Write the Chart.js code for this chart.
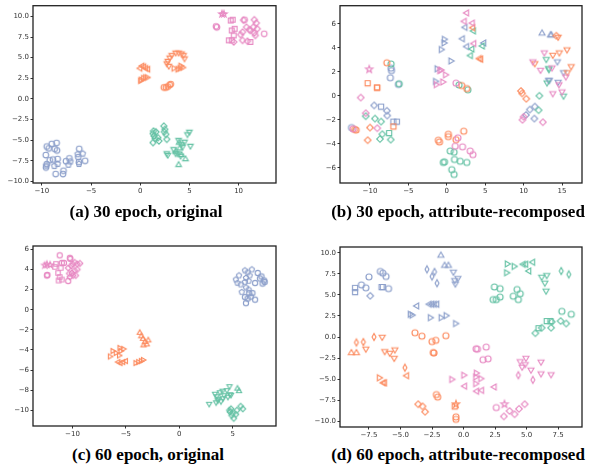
<!DOCTYPE html>
<html>
<head>
<meta charset="utf-8">
<script src="https://cdn.jsdelivr.net/npm/chart.js@4.4.1/dist/chart.umd.min.js"></script>
<style>
body { margin: 0; background: #fff; width: 589px; height: 465px; overflow: hidden; position: relative; }
canvas { position: absolute; }
.cap { position: absolute; font: bold 17px "Liberation Serif", "Times New Roman", serif; color: #000; white-space: nowrap; transform: translateX(-50%); }
</style>
</head>
<body>
<canvas id="ca" width="295" height="205" style="left:0;top:0"></canvas>
<canvas id="cb" width="294" height="205" style="left:295px;top:0"></canvas>
<canvas id="cc" width="295" height="215" style="left:0;top:230px"></canvas>
<canvas id="cd" width="294" height="215" style="left:295px;top:230px"></canvas>
<div class="cap" style="left:146px;top:202px">(a) 30 epoch, original</div>
<div class="cap" style="left:458px;top:202px">(b) 30 epoch, attribute-recomposed</div>
<div class="cap" style="left:148px;top:445px">(c) 60 epoch, original</div>
<div class="cap" style="left:458px;top:445px">(d) 60 epoch, attribute-recomposed</div>
<script>
// ---- tick labels ----
const A_XTICKS = [-10, -5, 0, 5, 10];
const A_YTICKS = [-10, -7.5, -5, -2.5, 0, 2.5, 5, 7.5, 10];
const B_XTICKS = [-10, -5, 0, 5, 10, 15];
const B_YTICKS = [-6, -4, -2, 0, 2, 4, 6];
const C_XTICKS = [-10, -5, 0, 5];
const C_YTICKS = [-10, -8, -6, -4, -2, 0, 2, 4, 6];
const D_XTICKS = [-7.5, -5, -2.5, 0, 2.5, 5, 7.5];
const D_YTICKS = [-10, -7.5, -5, -2.5, 0, 2.5, 5, 7.5, 10];

// ---- (a) 30 epoch, original ----
const A_BLUE_O = [[-9.6,-6.8],[-9.5,-5.77],[-9.3,-6.0],[-9.0,-5.45],[-8.5,-5.33],[-8.7,-6.05],[-8.46,-6.24],[-9.2,-7.43],[-9.5,-7.9],[-9.58,-8.3],[-8.87,-7.35],[-8.4,-7.28],[-8.6,-9.1],[-7.85,-9.1],[-7.8,-8.7],[-7.55,-7.55],[-7.2,-7.2],[-6.2,-6.05],[-6.3,-7.04],[-6.23,-7.63],[-5.6,-7.5]];
const A_BLUE_P = [[-8.4,-7.9],[-8.73,-8.15],[-7.1,-7.6],[-7.3,-7.99],[-6.36,-6.72],[-5.85,-6.64],[-6.23,-7.9],[-9.55,-8.1]];
const A_GREEN_D = [[1.3,-4.2],[1.4,-4.5],[1.3,-5.3],[1.6,-4.0],[1.8,-4.7],[1.9,-5.1],[2.4,-3.3],[2.5,-3.7],[2.6,-4.3],[2.7,-4.9],[2.45,-4.0],[1.5,-4.8],[1.35,-3.9]];
const A_GREEN_V = [[2.7,-6.6],[2.8,-6.8],[3.4,-6.1],[3.9,-5.0],[4.2,-5.5],[4.8,-4.3],[5.0,-4.0],[5.1,-5.7],[4.5,-5.2],[3.8,-6.6],[4.1,-6.9],[4.3,-5.8],[3.6,-6.6]];
const A_GREEN_UP = [[3.9,-8.0],[4.6,-7.3],[3.6,-6.4],[4.0,-6.0],[4.2,-6.8],[3.95,-5.3]];
const A_ORANGE_L = [[0.0,3.7],[0.2,4.0],[0.4,3.9],[0.6,3.7],[0.8,3.6]];
const A_ORANGE_R = [[0.0,2.2],[0.1,2.3],[0.3,2.5],[0.5,2.6],[0.7,2.6],[3.4,3.7],[3.8,3.6],[4.0,3.7],[4.3,3.8],[4.1,4.0]];
const A_ORANGE_O = [[2.4,1.4],[2.6,1.4],[2.8,1.5],[3.0,1.7],[3.1,1.8]];
const A_ORANGE_V = [[2.7,4.3],[2.8,4.6],[3.0,5.0],[3.2,5.3],[3.6,5.6],[3.9,5.6],[4.2,5.5],[4.4,5.3],[4.5,4.9],[2.9,4.0]];
const A_PINK_STAR = [[8.3,10.3],[8.5,10.3]];
const A_PINK_O = [[7.7,8.8],[7.8,8.7],[12.6,7.9],[10.6,9.6]];
const A_PINK_S = [[9.2,9.5],[9.4,9.6],[9.3,8.3],[9.6,8.5],[9.5,7.7],[9.0,7.1],[9.3,7.1],[11.2,6.9]];
const A_PINK_D = [[10.4,8.1],[10.2,7.8],[10.4,7.1],[9.5,6.9],[10.8,8.7],[11.1,8.4],[11.6,9.6],[11.8,9.2],[11.5,8.7],[11.9,8.5],[11.2,8.3],[11.6,8.0],[11.7,7.7],[10.9,7.0],[10.5,9.55]];

// ---- (b) 30 epoch, attribute-recomposed ----
const B_PINK_L = [[2.6,6.9],[2.3,6.2],[3.35,6.05],[3.55,4.35]];
const B_PINK_R = [[-0.95,2.1],[-0.8,2.15],[-0.2,1.75],[-1.4,0.93],[-0.55,1.15]];
const B_PINK_STAR = [[-10.1,2.2]];
const B_PINK_D = [[-11.2,-0.15],[-10.55,-1.45],[-9.05,-2.7],[10.0,-1.75],[9.85,-2.0],[12.5,-2.2]];
const B_PINK_O = [[1.2,1.05],[-12.2,-2.75],[1.45,-3.5],[1.1,-4.2],[2.05,-4.25],[3.05,-4.6],[3.4,-4.9]];
const B_PINK_V = [[12.7,3.6],[11.2,2.85],[12.2,2.15],[13.7,2.35],[15.5,1.6],[14.6,0.95],[13.8,0.2],[15.0,0.35]];
const B_ORANGE_L = [[3.4,5.67],[4.25,3.1],[4.45,3.05]];
const B_ORANGE_O = [[-7.8,2.75],[1.95,0.85],[2.6,0.6],[-11.8,-2.85],[-12.0,-2.8],[2.2,-2.95],[0.2,-3.2],[0.2,-3.4],[-1.1,-3.7],[-0.95,-3.85],[1.2,-3.65]];
const B_ORANGE_S = [[-10.3,1.05],[-9.1,0.7],[-9.05,0.68],[-6.95,-2.55]];
const B_ORANGE_D = [[-10.0,-2.65],[-10.3,-3.7],[9.65,0.4],[9.8,0.2],[10.35,-0.25],[14.25,5.0]];
const B_ORANGE_V = [[14.5,4.9],[13.8,3.4],[14.65,3.6],[15.65,3.85],[11.45,2.7],[16.2,2.45],[15.7,1.95]];
const B_GREEN_L = [[3.5,5.4],[3.3,3.9],[4.65,4.15],[3.1,3.35]];
const B_GREEN_O = [[-7.25,2.65],[-6.2,1.0],[1.6,0.9],[2.75,0.5],[0.45,-4.6],[0.95,-4.7],[-0.45,-5.55],[-0.3,-5.5],[1.0,-5.3],[1.75,-5.45],[2.6,-5.55],[0.65,-6.15],[0.95,-6.55]];
const B_GREEN_D = [[-10.55,-1.7],[-9.35,-1.9],[-8.55,-2.15],[-8.4,-3.2],[-8.7,-3.6],[-7.3,-3.65],[12.05,0.0],[11.95,-1.2]];
const B_GREEN_S = [[-7.5,-3.1]];
const B_GREEN_V = [[12.95,3.05],[13.25,2.3],[13.3,2.2],[13.05,1.1],[15.2,0.0]];
const B_BLUE_L = [[2.4,5.7],[2.05,4.75],[2.6,4.1],[4.85,4.4]];
const B_BLUE_R = [[-0.35,4.7],[-0.4,4.4],[-0.75,3.85],[0.5,2.9],[-1.3,2.25],[-1.5,1.2]];
const B_BLUE_O = [[-7.25,2.3],[-7.2,2.1],[-7.35,1.5],[-6.3,0.95],[-12.4,-2.65]];
const B_BLUE_S = [[-8.55,-0.9],[-6.95,-2.15],[-6.5,-2.15]];
const B_BLUE_D = [[-9.45,-0.8],[-7.8,-1.25],[-7.75,-1.65],[11.45,-0.9],[10.8,-1.15],[10.3,-1.6],[11.4,-1.9]];
const B_BLUE_UP = [[12.4,5.2],[13.5,5.05],[13.6,5.05]];
const B_BLUE_V = [[14.4,2.85],[15.2,1.95],[13.25,1.3],[13.35,1.3],[14.5,1.15]];

// ---- (c) 60 epoch, original ----
const C_PINK_STAR = [[-12.6,4.4],[-12.4,4.5],[-12.1,4.45]];
const C_PINK_O = [[-12.4,3.4],[-12.35,3.45],[-11.2,5.4],[-11.0,4.65],[-10.8,4.65],[-10.2,5.05],[-10.25,5.15],[-10.4,2.85]];
const C_PINK_S = [[-11.55,4.55],[-11.1,4.15],[-11.35,3.65],[-11.2,3.25],[-11.3,2.9],[-11.0,3.0],[-11.65,4.25]];
const C_PINK_D = [[-10.4,4.15],[-10.0,4.55],[-9.8,4.7],[-9.55,4.55],[-9.3,4.6],[-10.3,3.6],[-10.05,3.65],[-9.8,3.9],[-9.55,4.0],[-10.25,3.25],[-9.95,3.4],[-9.7,3.4],[-10.1,4.35]];
const C_BLUE_P = [[5.3,3.0],[5.6,3.4],[5.45,2.65],[5.75,2.5],[5.85,1.75],[6.15,3.9],[6.4,3.7],[6.25,3.15],[6.5,2.85],[6.15,2.75],[6.8,4.0],[6.6,3.4],[6.25,2.2],[6.5,2.0]];
const C_BLUE_O = [[6.55,1.65],[6.85,1.65],[6.7,1.3],[6.15,1.25],[6.4,1.1],[6.25,0.65],[7.1,2.65],[7.1,1.0],[7.35,3.65],[7.55,3.1],[7.7,3.3],[7.8,2.6],[7.95,2.9],[8.0,2.75]];
const C_ORANGE_UP = [[-3.7,-2.3],[-3.55,-2.65],[-3.4,-2.9],[-3.2,-3.2],[-3.05,-3.45],[-3.35,-3.55],[-2.9,-3.05]];
const C_ORANGE_R = [[-6.5,-4.65],[-6.25,-4.1],[-5.95,-4.3],[-5.6,-3.8],[-5.5,-4.1],[-5.25,-3.9],[-5.65,-4.55],[-4.1,-5.3],[-3.85,-5.2],[-3.6,-5.1],[-3.4,-5.0]];
const C_ORANGE_L = [[-5.7,-5.2],[-5.5,-5.3],[-5.25,-5.2],[-5.0,-5.1]];
const C_GREEN_V = [[2.8,-9.35],[3.35,-8.35],[3.5,-8.6],[3.65,-8.85],[3.45,-9.2],[3.8,-8.2],[4.05,-8.05],[4.2,-8.5],[4.45,-8.0],[4.7,-7.6],[4.75,-8.4],[4.55,-8.65],[4.85,-8.45],[3.6,-9.0],[3.9,-9.1],[4.1,-8.8]];
const C_GREEN_UP = [[5.45,-7.85],[5.6,-8.1]];
const C_GREEN_D = [[4.75,-10.15],[4.9,-10.5],[5.1,-10.8],[5.3,-10.4],[5.4,-10.0],[5.75,-9.6],[5.95,-9.85],[4.85,-9.85],[5.0,-10.3],[4.7,-10.0]];

// ---- (d) 60 epoch, attribute-recomposed ----
const D_BLUE_UP = [[-1.8,9.7],[-1.5,8.5],[-1.2,8.5]];
const D_BLUE_TD = [[-2.9,8.05],[-2.3,7.75],[-2.5,7.2],[-2.1,6.4]];
const D_BLUE_V = [[-0.8,7.75],[-0.7,6.75],[-0.65,6.35],[-0.45,7.0]];
const D_BLUE_O = [[-6.6,7.8],[-6.4,7.6],[-6.15,7.2],[-7.5,7.15],[-8.1,6.2],[-7.75,5.85],[-5.95,5.75]];
const D_BLUE_S = [[-8.6,5.85],[-8.6,5.35],[-6.5,5.95],[-6.4,5.95]];
const D_BLUE_D = [[-7.4,4.9]];
const D_BLUE_L = [[-3.7,3.7],[-2.7,3.9],[-2.5,3.9],[-2.3,3.9],[-2.1,3.9]];
const D_BLUE_R = [[-4.25,2.7],[-4.1,2.6],[-2.65,2.3],[-1.8,2.3],[-1.4,2.55],[-0.65,1.6]];
const D_GREEN_R = [[3.45,8.7],[3.4,7.65],[4.0,8.4]];
const D_GREEN_L = [[4.75,8.65],[4.95,8.65],[5.5,8.9],[5.2,7.85]];
const D_GREEN_O = [[2.45,5.95],[2.9,5.75],[2.35,4.45],[2.6,4.45],[2.9,4.75],[4.25,5.65],[4.5,5.15],[3.95,4.85],[4.35,4.45],[7.8,3.05],[8.55,2.7]];
const D_GREEN_V = [[6.2,7.15],[6.6,7.35],[6.45,6.45],[6.55,5.5]];
const D_GREEN_TD = [[7.75,7.85],[8.35,7.45]];
const D_GREEN_S = [[6.6,1.9],[6.9,1.9],[5.95,1.05]];
const D_GREEN_D = [[5.7,0.45],[6.2,1.1],[7.0,1.8],[7.7,1.9],[8.15,1.6],[6.95,1.1]];
const D_ORANGE_TD = [[-8.5,-0.65],[-7.95,-0.6],[-7.1,0.0],[-4.65,-3.65]];
const D_ORANGE_V = [[-6.45,0.0],[-7.75,-1.4],[-6.25,-1.7],[-5.85,-1.9],[-5.45,-1.5],[-5.5,-2.5]];
const D_ORANGE_UP = [[-8.9,-1.9],[-8.5,-1.9]];
const D_ORANGE_L = [[-4.5,-4.6],[-6.35,-5.45],[-6.25,-5.45]];
const D_ORANGE_R = [[-6.7,-4.85]];
const D_ORANGE_O = [[-3.85,0.5],[-3.3,0.1],[-2.5,-0.55],[-2.2,-0.4],[-1.4,0.15],[-2.4,-1.85],[-2.35,-1.9],[-2.15,-6.85],[-2.05,-7.15],[-0.6,-9.5],[-0.6,-9.8]];
const D_ORANGE_D = [[-3.6,-8.0],[-3.25,-8.25],[-3.05,-8.9]];
const D_ORANGE_S = [[-0.7,-8.25]];
const D_ORANGE_STAR = [[-0.6,-8.0]];
const D_PINK_O = [[1.0,-1.4],[1.1,-1.45],[1.8,-1.2],[1.55,-2.7],[1.95,-2.6],[2.6,-8.4]];
const D_PINK_R = [[-0.95,-5.05],[0.0,-4.55],[0.95,-4.75],[1.0,-4.3],[1.35,-4.95],[0.95,-5.55]];
const D_PINK_L = [[0.1,-5.85],[1.05,-6.45],[1.45,-6.35],[2.45,-5.95]];
const D_PINK_V = [[4.5,-2.9],[4.95,-2.5],[4.65,-3.55],[4.9,-3.25],[5.35,-3.9],[6.15,-2.95],[6.15,-4.35],[6.95,-4.45]];
const D_PINK_TD = [[4.35,-4.55],[5.5,-5.1]];
const D_PINK_STAR = [[3.25,-8.0]];
const D_PINK_D = [[3.2,-9.45],[3.65,-8.8],[4.05,-9.2],[4.4,-8.55],[4.85,-8.0]];

const COLORS = { green: '#66c2a5', orange: '#fc8d62', blue: '#8da0cb', pink: '#e78ac3' };

// marqueurs creux dessinés dans un petit canvas
function marker(shape, color, r) {
  const s = 2 * Math.ceil(r * 1.4 + 2);
  const c = document.createElement('canvas');
  c.width = c.height = s;
  const g = c.getContext('2d');
  g.translate(s / 2, s / 2);
  g.strokeStyle = color;
  g.lineWidth = 1.15;
  g.beginPath();
  const poly = (n, R, rot, inner) => {
    const k = inner ? n * 2 : n;
    for (let i = 0; i < k; i++) {
      const a = rot + i * 2 * Math.PI / k;
      const rr = inner && i % 2 ? inner : R;
      const px = rr * Math.cos(a), py = rr * Math.sin(a);
      i ? g.lineTo(px, py) : g.moveTo(px, py);
    }
  };
  const D = Math.PI / 180;
  switch (shape) {
    case 'o': g.arc(0, 0, r, 0, 2 * Math.PI); break;
    case 's': g.rect(-0.85 * r, -0.85 * r, 1.7 * r, 1.7 * r); break;
    case 'D': poly(4, r * 1.1, -90 * D); break;
    case 'd': g.moveTo(0, -1.2 * r); g.lineTo(0.65 * r, 0); g.lineTo(0, 1.2 * r); g.lineTo(-0.65 * r, 0); break;
    case '^': poly(3, r * 1.15, -90 * D); break;
    case 'v': poly(3, r * 1.15, 90 * D); break;
    case '<': poly(3, r * 1.15, 180 * D); break;
    case '>': poly(3, r * 1.15, 0); break;
    case 'p': poly(5, r * 1.05, -90 * D); break;
    case '*': poly(5, r * 1.25, -90 * D, r * 0.5); break;
  }
  g.closePath();
  g.stroke();
  return c;
}

const fmt = (dec) => (v) => (dec ? v.toFixed(dec) : String(v)).replace('-', '\u2212');

const frame = {
  id: 'frame',
  afterDraw(chart) {
    const { ctx, chartArea: a } = chart;
    ctx.save();
    ctx.strokeStyle = '#222';
    ctx.lineWidth = 1.3;
    ctx.strokeRect(a.left, a.top, a.right - a.left, a.bottom - a.top);
    ctx.restore();
  }
};

function axis(min, max, ticks, dec, size, isY) {
  return {
    type: 'linear', min, max,
    afterBuildTicks: (s) => { s.ticks = ticks.map(v => ({ value: v })); },
    afterFit: (s) => { if (isY) s.width = size; else s.height = size; },
    grid: { display: true, drawOnChartArea: false, drawTicks: true, tickLength: 2.5, color: '#333', lineWidth: 1 },
    border: { display: false },
    ticks: { padding: 1.5, color: '#333', font: { family: 'DejaVu Sans', size: 7 }, callback: fmt(dec), maxRotation: 0, autoSkip: false }
  };
}

function scatter(id, area, xr, yr, xt, yt, xdec, ydec, r, sets) {
  const cv = document.getElementById(id);
  new Chart(cv, {
    type: 'scatter',
    data: {
      datasets: sets.map(([pts, col, shape]) => ({
        data: pts.map(([x, y]) => ({ x, y })),
        pointStyle: marker(shape, COLORS[col], r),
        pointRadius: 3
      }))
    },
    options: {
      responsive: false, animation: false, events: [],
      layout: { padding: { left: 0, top: area.top, right: cv.width - area.right, bottom: 0 } },
      plugins: { legend: { display: false }, tooltip: { enabled: false } },
      scales: {
        x: axis(xr[0], xr[1], xt, xdec, cv.height - area.bottom, false),
        y: axis(yr[0], yr[1], yt, ydec, area.left, true)
      }
    },
    plugins: [frame]
  });
}

scatter('ca', { left: 33, right: 276, top: 3, bottom: 183 }, [-10.9, 13.8], [-10.2, 11.3], A_XTICKS, A_YTICKS, 0, 1, 2.8, [
  [A_BLUE_O, 'blue', 'o'], [A_BLUE_P, 'blue', 'p'],
  [A_GREEN_D, 'green', 'D'], [A_GREEN_V, 'green', 'v'], [A_GREEN_UP, 'green', '^'],
  [A_ORANGE_L, 'orange', '<'], [A_ORANGE_R, 'orange', '>'], [A_ORANGE_O, 'orange', 'o'], [A_ORANGE_V, 'orange', 'v'],
  [A_PINK_STAR, 'pink', '*'], [A_PINK_O, 'pink', 'o'], [A_PINK_S, 'pink', 's'], [A_PINK_D, 'pink', 'D']
]);

scatter('cb', { left: 45, right: 287, top: 3, bottom: 183 }, [-13.9, 17.6], [-7.26, 7.5], B_XTICKS, B_YTICKS, 0, 0, 3, [
  [B_PINK_L, 'pink', '<'], [B_PINK_R, 'pink', '>'], [B_PINK_STAR, 'pink', '*'], [B_PINK_D, 'pink', 'D'], [B_PINK_O, 'pink', 'o'], [B_PINK_V, 'pink', 'v'],
  [B_ORANGE_L, 'orange', '<'], [B_ORANGE_O, 'orange', 'o'], [B_ORANGE_S, 'orange', 's'], [B_ORANGE_D, 'orange', 'D'], [B_ORANGE_V, 'orange', 'v'],
  [B_GREEN_L, 'green', '<'], [B_GREEN_O, 'green', 'o'], [B_GREEN_D, 'green', 'D'], [B_GREEN_S, 'green', 's'], [B_GREEN_V, 'green', 'v'],
  [B_BLUE_L, 'blue', '<'], [B_BLUE_R, 'blue', '>'], [B_BLUE_O, 'blue', 'o'], [B_BLUE_S, 'blue', 's'], [B_BLUE_D, 'blue', 'D'], [B_BLUE_UP, 'blue', '^'], [B_BLUE_V, 'blue', 'v']
]);

scatter('cc', { left: 33, right: 276, top: 16, bottom: 196 }, [-13.7, 9.06], [-11.56, 6.33], C_XTICKS, C_YTICKS, 0, 0, 2.6, [
  [C_PINK_STAR, 'pink', '*'], [C_PINK_O, 'pink', 'o'], [C_PINK_S, 'pink', 's'], [C_PINK_D, 'pink', 'D'],
  [C_BLUE_P, 'blue', 'p'], [C_BLUE_O, 'blue', 'o'],
  [C_ORANGE_UP, 'orange', '^'], [C_ORANGE_R, 'orange', '>'], [C_ORANGE_L, 'orange', '<'],
  [C_GREEN_V, 'green', 'v'], [C_GREEN_UP, 'green', '^'], [C_GREEN_D, 'green', 'D']
]);

scatter('cd', { left: 45, right: 287, top: 17, bottom: 197 }, [-9.8, 9.4], [-10.71, 10.71], D_XTICKS, D_YTICKS, 1, 1, 3, [
  [D_BLUE_UP, 'blue', '^'], [D_BLUE_TD, 'blue', 'd'], [D_BLUE_V, 'blue', 'v'], [D_BLUE_O, 'blue', 'o'], [D_BLUE_S, 'blue', 's'], [D_BLUE_D, 'blue', 'D'], [D_BLUE_L, 'blue', '<'], [D_BLUE_R, 'blue', '>'],
  [D_GREEN_R, 'green', '>'], [D_GREEN_L, 'green', '<'], [D_GREEN_O, 'green', 'o'], [D_GREEN_V, 'green', 'v'], [D_GREEN_TD, 'green', 'd'], [D_GREEN_S, 'green', 's'], [D_GREEN_D, 'green', 'D'],
  [D_ORANGE_TD, 'orange', 'd'], [D_ORANGE_V, 'orange', 'v'], [D_ORANGE_UP, 'orange', '^'], [D_ORANGE_L, 'orange', '<'], [D_ORANGE_R, 'orange', '>'], [D_ORANGE_O, 'orange', 'o'], [D_ORANGE_D, 'orange', 'D'], [D_ORANGE_S, 'orange', 's'], [D_ORANGE_STAR, 'orange', '*'],
  [D_PINK_O, 'pink', 'o'], [D_PINK_R, 'pink', '>'], [D_PINK_L, 'pink', '<'], [D_PINK_V, 'pink', 'v'], [D_PINK_TD, 'pink', 'd'], [D_PINK_STAR, 'pink', '*'], [D_PINK_D, 'pink', 'D']
]);
</script>
</body>
</html>
